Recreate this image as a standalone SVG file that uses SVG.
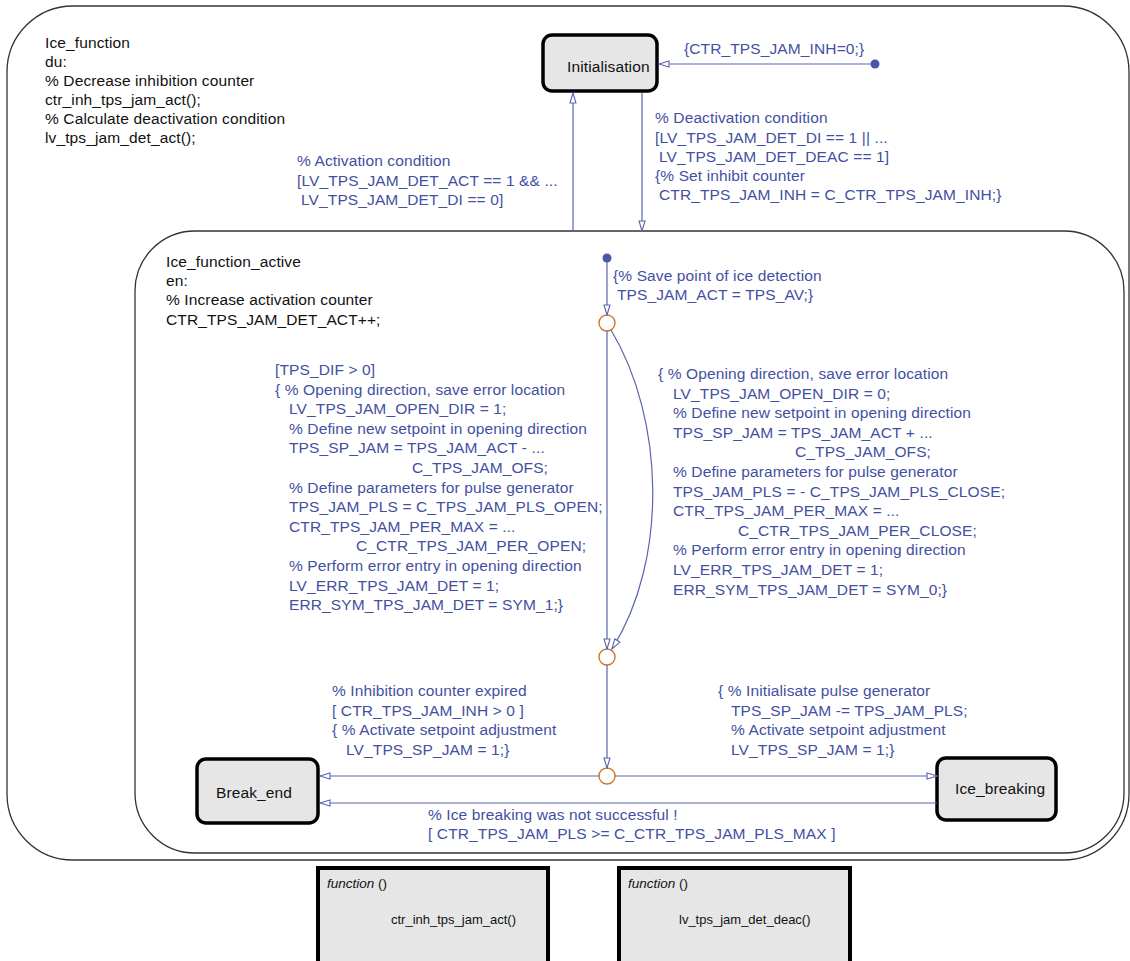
<svg xmlns="http://www.w3.org/2000/svg" width="1130" height="961" viewBox="0 0 1130 961">
  <style>
    .t { font-family: "Liberation Sans", Arial, sans-serif; font-size: 15.5px; letter-spacing: 0.12px; fill: #111; }
    .b { fill: #4350a2; }
    .state { fill: #e6e6e6; stroke: #000; stroke-width: 3.5; }
    .fn { fill: #e6e6e6; stroke: #000; stroke-width: 4; }
    .fnhead { font-size: 13.5px; letter-spacing: 0; }
    .fnbody { font-size: 13px; letter-spacing: 0; }
    .super { fill: none; stroke: #333; stroke-width: 1.3; }
    .edge { fill: none; stroke: #5a65ad; stroke-width: 1.2; }
    .junc { fill: #fff; stroke: #cc7a2e; stroke-width: 1.4; }
    .dot { fill: #4a56a6; }
  </style>
  <defs>
    <marker id="arr" viewBox="0 0 12 8" refX="11" refY="4" markerWidth="12" markerHeight="8" markerUnits="userSpaceOnUse" orient="auto">
      <path d="M1,1 L11,4 L1,7 Z" fill="#fff" stroke="#5a65ad" stroke-width="1.1"/>
    </marker>
  </defs>

  <!-- superstate Ice_function -->
  <g id="ice_function">
    <rect class="super" x="7" y="6" width="1122" height="854" rx="66" ry="66"/>
    <text class="t">
      <tspan x="45" y="48">Ice_function</tspan>
      <tspan x="45" y="67">du:</tspan>
      <tspan x="45" y="86">% Decrease inhibition counter</tspan>
      <tspan x="45" y="105">ctr_inh_tps_jam_act();</tspan>
      <tspan x="45" y="124">% Calculate deactivation condition</tspan>
      <tspan x="45" y="143">lv_tps_jam_det_act();</tspan>
    </text>
  </g>

  <!-- superstate Ice_function_active -->
  <g id="ice_function_active">
    <rect class="super" x="135" y="231" width="989" height="622" rx="60" ry="60"/>
    <text class="t">
      <tspan x="166" y="267">Ice_function_active</tspan>
      <tspan x="166" y="286">en:</tspan>
      <tspan x="166" y="305">% Increase activation counter</tspan>
      <tspan x="166" y="325">CTR_TPS_JAM_DET_ACT++;</tspan>
    </text>
  </g>

  <g id="initialisation">
    <rect class="state" x="543" y="35" width="114" height="56" rx="9"/>
    <text class="t" x="567" y="72">Initialisation</text>
  </g>

  <g id="break_end">
    <rect class="state" x="197" y="759" width="121" height="64" rx="9"/>
    <text class="t" x="216" y="798">Break_end</text>
  </g>

  <g id="ice_breaking">
    <rect class="state" x="937" y="758" width="119" height="62" rx="9"/>
    <text class="t" x="955" y="794">Ice_breaking</text>
  </g>

  <g id="junction1"><circle class="junc" cx="607" cy="323" r="8"/></g>
  <g id="junction2"><circle class="junc" cx="607" cy="657" r="8"/></g>
  <g id="junction3"><circle class="junc" cx="607" cy="776" r="8"/></g>

  <!-- transitions -->
  <g id="connectors">
    <circle class="dot" cx="875" cy="64" r="4.5"/>
    <path class="edge" d="M871,64 L659,64" marker-end="url(#arr)"/>
    <path class="edge" d="M573,231 L573,93" marker-end="url(#arr)"/>
    <path class="edge" d="M642,93 L642,231" marker-end="url(#arr)"/>

    <circle class="dot" cx="607" cy="258" r="4.5"/>
    <path class="edge" d="M607,262 L607,315" marker-end="url(#arr)"/>
    <path class="edge" d="M607,331 L607,649" marker-end="url(#arr)"/>
    <path class="edge" d="M611,330 C665,420 668,560 612,649" marker-end="url(#arr)"/>
    <path class="edge" d="M607,665 L607,768" marker-end="url(#arr)"/>
    <path class="edge" d="M599,776 L320,776" marker-end="url(#arr)"/>
    <path class="edge" d="M615,776 L937,776" marker-end="url(#arr)"/>
    <path class="edge" d="M937,803 L320,803" marker-end="url(#arr)"/>

    <text class="t b" x="684" y="54">{CTR_TPS_JAM_INH=0;}</text>

    <text class="t b">
      <tspan x="297" y="166">% Activation condition</tspan>
      <tspan x="297" y="186">[LV_TPS_JAM_DET_ACT == 1 &amp;&amp; ...</tspan>
      <tspan x="301" y="205">LV_TPS_JAM_DET_DI == 0]</tspan>
    </text>

    <text class="t b">
      <tspan x="655" y="123">% Deactivation condition</tspan>
      <tspan x="655" y="143">[LV_TPS_JAM_DET_DI == 1 || ...</tspan>
      <tspan x="659" y="162">LV_TPS_JAM_DET_DEAC == 1]</tspan>
      <tspan x="655" y="181">{% Set inhibit counter</tspan>
      <tspan x="659" y="200">CTR_TPS_JAM_INH = C_CTR_TPS_JAM_INH;}</tspan>
    </text>

    <text class="t b">
      <tspan x="613" y="281">{% Save point of ice detection</tspan>
      <tspan x="617" y="300">TPS_JAM_ACT = TPS_AV;}</tspan>
    </text>

    <text class="t b">
      <tspan x="275" y="375">[TPS_DIF &gt; 0]</tspan>
      <tspan x="275" y="394.6">{ % Opening direction, save error location</tspan>
      <tspan x="289" y="414.2">LV_TPS_JAM_OPEN_DIR = 1;</tspan>
      <tspan x="289" y="433.8">% Define new  setpoint in opening direction</tspan>
      <tspan x="289" y="453.4">TPS_SP_JAM = TPS_JAM_ACT - ...</tspan>
      <tspan x="412" y="473">C_TPS_JAM_OFS;</tspan>
      <tspan x="289" y="492.6">% Define parameters for pulse generator</tspan>
      <tspan x="289" y="512.2">TPS_JAM_PLS = C_TPS_JAM_PLS_OPEN;</tspan>
      <tspan x="289" y="531.8">CTR_TPS_JAM_PER_MAX = ...</tspan>
      <tspan x="356" y="551.4">C_CTR_TPS_JAM_PER_OPEN;</tspan>
      <tspan x="289" y="571">% Perform error entry in opening direction</tspan>
      <tspan x="289" y="590.6">LV_ERR_TPS_JAM_DET = 1;</tspan>
      <tspan x="289" y="610.2">ERR_SYM_TPS_JAM_DET = SYM_1;}</tspan>
    </text>

    <text class="t b">
      <tspan x="658" y="379">{ % Opening direction, save error location</tspan>
      <tspan x="673" y="398.6">LV_TPS_JAM_OPEN_DIR = 0;</tspan>
      <tspan x="673" y="418.2">% Define new  setpoint in opening direction</tspan>
      <tspan x="673" y="437.8">TPS_SP_JAM = TPS_JAM_ACT + ...</tspan>
      <tspan x="795" y="457.4">C_TPS_JAM_OFS;</tspan>
      <tspan x="673" y="477">% Define parameters for pulse generator</tspan>
      <tspan x="673" y="496.6">TPS_JAM_PLS = - C_TPS_JAM_PLS_CLOSE;</tspan>
      <tspan x="673" y="516.2">CTR_TPS_JAM_PER_MAX = ...</tspan>
      <tspan x="738" y="535.8">C_CTR_TPS_JAM_PER_CLOSE;</tspan>
      <tspan x="673" y="555.4">% Perform error entry in opening direction</tspan>
      <tspan x="673" y="575">LV_ERR_TPS_JAM_DET = 1;</tspan>
      <tspan x="673" y="594.6">ERR_SYM_TPS_JAM_DET = SYM_0;}</tspan>
    </text>

    <text class="t b">
      <tspan x="332" y="696">% Inhibition counter expired</tspan>
      <tspan x="332" y="716">[ CTR_TPS_JAM_INH &gt; 0 ]</tspan>
      <tspan x="332" y="735">{ % Activate setpoint adjustment</tspan>
      <tspan x="346" y="755">LV_TPS_SP_JAM = 1;}</tspan>
    </text>

    <text class="t b">
      <tspan x="718" y="696">{ % Initialisate pulse generator</tspan>
      <tspan x="731" y="716">TPS_SP_JAM -= TPS_JAM_PLS;</tspan>
      <tspan x="731" y="735">% Activate setpoint adjustment</tspan>
      <tspan x="731" y="755">LV_TPS_SP_JAM = 1;}</tspan>
    </text>

    <text class="t b">
      <tspan x="428" y="820">% Ice breaking was not successful !</tspan>
      <tspan x="428" y="839">[ CTR_TPS_JAM_PLS &gt;= C_CTR_TPS_JAM_PLS_MAX ]</tspan>
    </text>
  </g>

  <!-- graphical functions -->
  <g id="fn_ctr_inh">
    <rect class="fn" x="318" y="868" width="230" height="110"/>
    <text class="t fnhead" x="327" y="888"><tspan font-style="italic">function</tspan> ()</text>
    <text class="t fnbody" x="391" y="924">ctr_inh_tps_jam_act()</text>
  </g>
  <g id="fn_lv_deac">
    <rect class="fn" x="619" y="868" width="231" height="110"/>
    <text class="t fnhead" x="628" y="888"><tspan font-style="italic">function</tspan> ()</text>
    <text class="t fnbody" x="679" y="924">lv_tps_jam_det_deac()</text>
  </g>
</svg>
